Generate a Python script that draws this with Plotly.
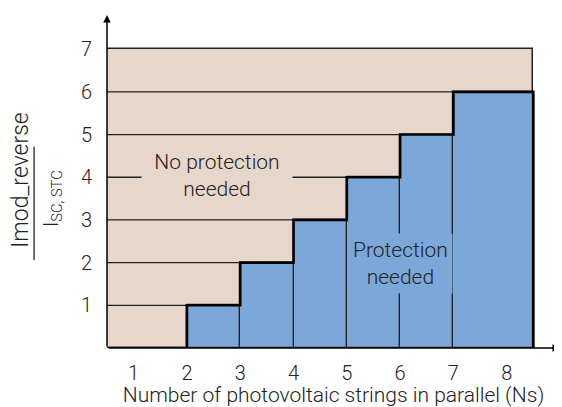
import plotly.graph_objects as go

# ---- data ----
ns_ticks = [1, 2, 3, 4, 5, 6, 7, 8]
y_ticks = [1, 2, 3, 4, 5, 6, 7]
step_start = [2, 3, 4, 5, 6, 7]          # Ns where each level starts
step_end = [3, 4, 5, 6, 7, 8.5]          # end of each step
levels = [1, 2, 3, 4, 5, 6]              # Imod_reverse / Isc,stc
x_min, x_max_area, x_axis_end = 0.5, 8.5, 9.0
y_top_area, y_axis_end = 7, 7.8

TAN = "#E7D6CA"
BLUE = "#7BA7D9"
INK = "#222222"
FONT = "Roboto"
W = 300

def f(size):
    return dict(family=FONT, size=size, color=INK, weight=W)

fig = go.Figure()

# tan background area
fig.add_trace(go.Bar(
    x=[(x_min + x_max_area) / 2], y=[y_top_area], width=[x_max_area - x_min],
    marker=dict(color=TAN, line=dict(color=INK, width=1.5)),
    hoverinfo="skip", showlegend=False))

# blue "protection needed" bars
fig.add_trace(go.Bar(
    x=[(a + b) / 2 for a, b in zip(step_start, step_end)], y=levels,
    width=[b - a for a, b in zip(step_start, step_end)],
    marker=dict(color=BLUE, line=dict(color=INK, width=1.2)),
    hoverinfo="skip", showlegend=False))

# horizontal grid lines in the tan area
gx, gy = [], []
for lv, st in zip(levels, step_start):
    gx += [x_min, st, None]
    gy += [lv, lv, None]
fig.add_trace(go.Scatter(x=gx, y=gy, mode="lines",
                         line=dict(color=INK, width=1.3),
                         hoverinfo="skip", showlegend=False))

# thick step boundary
sx, sy = [step_start[0]], [0]
for a, b, lv in zip(step_start, step_end, levels):
    sx += [a, b]
    sy += [lv, lv]
sx.append(step_end[-1])
sy.append(0)
fig.add_trace(go.Scatter(x=sx, y=sy, mode="lines",
                         line=dict(color="black", width=2.6),
                         hoverinfo="skip", showlegend=False))

# axes arrows
fig.add_annotation(x=x_axis_end, y=0, ax=x_min, ay=0, xref="x", yref="y",
                   axref="x", ayref="y", text="", showarrow=True,
                   arrowhead=2, arrowsize=1, arrowwidth=1.5, arrowcolor="black")
fig.add_annotation(x=x_min, y=y_axis_end, ax=x_min, ay=0, xref="x", yref="y",
                   axref="x", ayref="y", text="", showarrow=True,
                   arrowhead=2, arrowsize=1, arrowwidth=1.5, arrowcolor="black")

# region labels
fig.add_annotation(x=2.56, y=4.05, xref="x", yref="y",
                   text="No protection<br>needed", showarrow=False,
                   font=f(21), bgcolor=TAN, width=146, borderpad=2)
fig.add_annotation(x=6.0, y=1.97, xref="x", yref="y",
                   text="Protection<br>needed", showarrow=False,
                   font=f(21), bgcolor=BLUE, borderpad=4)

# y-axis title as a fraction
fig.add_annotation(x=-0.19, y=0.505, xref="paper", yref="paper",
                   xanchor="center", yanchor="middle",
                   text="Imod_reverse", textangle=-90, showarrow=False,
                   font=f(23))
fig.add_annotation(x=-0.121, y=0.447, xref="paper", yref="paper",
                   xanchor="center", yanchor="middle",
                   text="I<sub>SC, STC</sub>", textangle=-90, showarrow=False,
                   font=f(21))
fig.add_shape(type="line", xref="paper", yref="paper",
              x0=-0.161, x1=-0.161, y0=0.264, y1=0.604,
              line=dict(color=INK, width=1.3))

fig.update_layout(
    width=554, height=399,
    margin=dict(l=99, r=2, t=7, b=59, autoexpand=False),
    plot_bgcolor="white", paper_bgcolor="white",
    barmode="overlay", bargap=0,
    font=f(20),
    xaxis=dict(range=[x_min, x_axis_end], tickvals=ns_ticks, automargin=False,
               ticks="outside", ticklen=7, tickcolor="rgba(0,0,0,0)",
               showgrid=False, zeroline=False, showline=False,
               tickfont=f(20),
               title=dict(text="Number of photovoltaic strings in parallel (Ns)",
                          font=f(21), standoff=5)),
    yaxis=dict(range=[0, y_axis_end], tickvals=y_ticks, automargin=False,
               ticks="outside", ticklen=10, tickcolor="rgba(0,0,0,0)",
               showgrid=False, zeroline=False, showline=False,
               tickfont=f(20)),
)

fig.write_html("out.html")
